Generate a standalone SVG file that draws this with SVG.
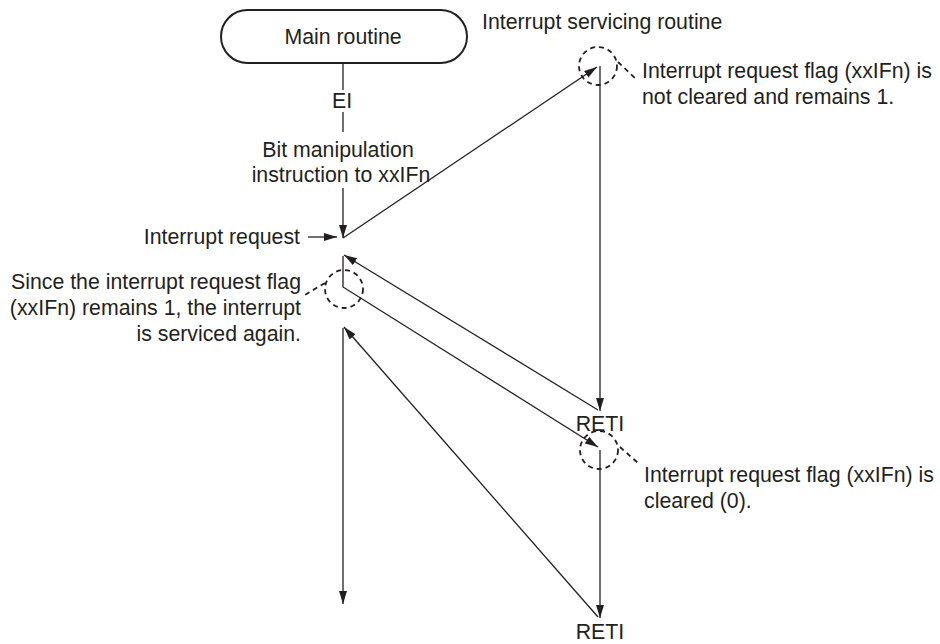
<svg xmlns="http://www.w3.org/2000/svg" width="940" height="644" viewBox="0 0 940 644">
<style>
text{font-family:"Liberation Sans",Arial,sans-serif;font-size:21.3px;fill:#231f20}
.ln{stroke:#231f20;stroke-width:1.3;fill:none}
.dash{stroke:#231f20;stroke-width:1.8;fill:none;stroke-dasharray:5 4}
.mid{text-anchor:middle}
.end{text-anchor:end}
</style>
<defs>
<marker id="ah" markerUnits="userSpaceOnUse" markerWidth="14" markerHeight="10" refX="13" refY="4" orient="auto">
<path d="M0,0 L13,4 L0,8 z" fill="#231f20"/>
</marker>
</defs>
<rect width="940" height="644" fill="#fff"/>
<g id="main-routine">
<rect x="221" y="10" width="246" height="53" rx="26.5" ry="26.5" fill="#fff" stroke="#231f20" stroke-width="2"/>
<text class="mid" x="343" y="44">Main routine</text>
</g>
<g id="labels">
<text x="482" y="29">Interrupt servicing routine</text>
<text class="mid" x="342" y="108">EI</text>
<text class="mid" x="338" y="157">Bit manipulation</text>
<text class="mid" x="341" y="182">instruction to xxIFn</text>
<text class="end" x="300" y="244">Interrupt request</text>
<text class="end" x="301" y="289">Since the interrupt request flag</text>
<text class="end" x="301" y="315">(xxIFn) remains 1, the interrupt</text>
<text class="end" x="301" y="341">is serviced again.</text>
<text x="642" y="78">Interrupt request flag (xxIFn) is</text>
<text x="642" y="104">not cleared and remains 1.</text>
<text x="644" y="482">Interrupt request flag (xxIFn) is</text>
<text x="644" y="508">cleared (0).</text>
<text class="mid" x="600" y="431">RETI</text>
<text class="mid" x="600" y="639">RETI</text>
</g>
<g id="connectors">
<line class="ln" x1="343" y1="63" x2="343" y2="90"/>
<line class="ln" x1="343" y1="112" x2="343" y2="132"/>
<line class="ln" x1="343" y1="188" x2="343" y2="238" marker-end="url(#ah)"/>
<line class="ln" x1="308" y1="237" x2="337" y2="237" marker-end="url(#ah)"/>
<line class="ln" x1="343" y1="238" x2="597" y2="67" marker-end="url(#ah)"/>
<line class="ln" x1="600" y1="66" x2="600" y2="411" marker-end="url(#ah)"/>
<line class="ln" x1="598" y1="410" x2="344" y2="255" marker-end="url(#ah)"/>
<polyline class="ln" points="343,256 343,287 598,447" marker-end="url(#ah)"/>
<line class="ln" x1="600" y1="450" x2="600" y2="618" marker-end="url(#ah)"/>
<line class="ln" x1="598" y1="617" x2="344" y2="327" marker-end="url(#ah)"/>
<line class="ln" x1="343" y1="328" x2="343" y2="604" marker-end="url(#ah)"/>
</g>
<g id="notes">
<circle class="dash" cx="598" cy="66" r="19"/>
<line class="dash" x1="618" y1="62" x2="637" y2="80"/>
<circle class="dash" cx="599" cy="450" r="19"/>
<line class="dash" x1="620" y1="447" x2="638" y2="463"/>
<circle class="dash" cx="344" cy="289" r="19"/>
<line class="dash" x1="325" y1="283" x2="303" y2="296"/>
</g>
</svg>
